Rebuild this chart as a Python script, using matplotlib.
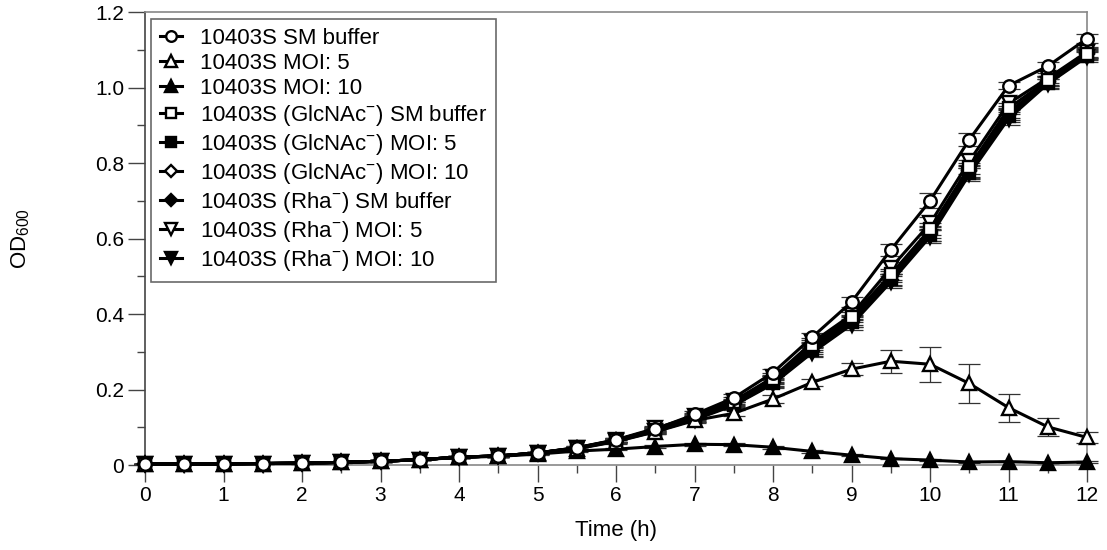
import numpy as np
import matplotlib
matplotlib.use('Agg')
import matplotlib.pyplot as plt
from matplotlib.ticker import MultipleLocator, FuncFormatter

plt.rcParams['font.family'] = ['Liberation Sans', 'DejaVu Sans']
plt.rcParams['mathtext.fontset'] = 'custom'
plt.rcParams['mathtext.rm'] = 'Liberation Sans'
plt.rcParams['mathtext.it'] = 'Liberation Sans'

# Tiempo (h)
time_h = [0, 0.5, 1, 1.5, 2, 2.5, 3, 3.5, 4, 4.5, 5, 5.5, 6,
          6.5, 7, 7.5, 8, 8.5, 9, 9.5, 10, 10.5, 11, 11.5, 12]

# Valores de OD600
wt_sm = [0.003, 0.003, 0.003, 0.004, 0.005, 0.007, 0.010, 0.014, 0.021, 0.024, 0.032, 0.046,
         0.066, 0.095, 0.134, 0.178, 0.245, 0.339, 0.432, 0.570, 0.700, 0.862, 1.005, 1.057, 1.130]
wt_moi5 = [0.003, 0.003, 0.003, 0.004, 0.005, 0.007, 0.010, 0.014, 0.021, 0.024, 0.031, 0.043,
           0.062, 0.088, 0.118, 0.137, 0.175, 0.219, 0.254, 0.275, 0.267, 0.216, 0.152, 0.101, 0.073]
wt_moi10 = [0.003, 0.003, 0.003, 0.004, 0.005, 0.007, 0.010, 0.014, 0.020, 0.023, 0.029, 0.037,
            0.042, 0.049, 0.055, 0.054, 0.047, 0.036, 0.026, 0.017, 0.013, 0.008, 0.009, 0.006, 0.008]
glc_sm = [0.003, 0.003, 0.003, 0.004, 0.005, 0.007, 0.010, 0.014, 0.021, 0.024, 0.032, 0.045,
          0.065, 0.093, 0.128, 0.168, 0.228, 0.318, 0.392, 0.505, 0.625, 0.790, 0.945, 1.020, 1.090]
glc_moi5 = [0.003, 0.003, 0.003, 0.004, 0.005, 0.007, 0.010, 0.014, 0.021, 0.024, 0.032, 0.044,
            0.064, 0.090, 0.122, 0.160, 0.218, 0.305, 0.378, 0.492, 0.610, 0.775, 0.925, 1.012, 1.085]
glc_moi10 = [0.003, 0.003, 0.003, 0.004, 0.005, 0.007, 0.010, 0.014, 0.021, 0.024, 0.032, 0.045,
             0.066, 0.094, 0.126, 0.165, 0.225, 0.312, 0.385, 0.500, 0.618, 0.782, 0.935, 1.015, 1.088]
rha_sm = [0.003, 0.003, 0.003, 0.004, 0.005, 0.007, 0.010, 0.014, 0.021, 0.024, 0.032, 0.045,
          0.065, 0.092, 0.124, 0.162, 0.220, 0.302, 0.380, 0.490, 0.612, 0.778, 0.930, 1.018, 1.092]
rha_moi5 = [0.003, 0.003, 0.003, 0.004, 0.005, 0.007, 0.010, 0.014, 0.021, 0.024, 0.032, 0.046,
            0.067, 0.097, 0.130, 0.170, 0.232, 0.325, 0.398, 0.522, 0.640, 0.805, 0.958, 1.025, 1.095]
rha_moi10 = [0.003, 0.003, 0.003, 0.004, 0.005, 0.007, 0.010, 0.014, 0.021, 0.024, 0.031, 0.044,
             0.063, 0.089, 0.120, 0.158, 0.215, 0.298, 0.372, 0.485, 0.605, 0.770, 0.918, 1.010, 1.082]

# Desviaciones (barras de error)
err_wt_sm = [0.001, 0.001, 0.001, 0.001, 0.001, 0.001, 0.002, 0.002, 0.002, 0.002, 0.003, 0.004,
             0.005, 0.006, 0.008, 0.010, 0.010, 0.012, 0.014, 0.015, 0.020, 0.018, 0.010, 0.012, 0.012]
err_wt_moi5 = [0.001, 0.001, 0.001, 0.001, 0.001, 0.001, 0.002, 0.002, 0.002, 0.002, 0.003, 0.004,
               0.005, 0.006, 0.007, 0.008, 0.010, 0.010, 0.015, 0.030, 0.047, 0.052, 0.037, 0.024, 0.014]
err_wt_moi10 = [0.001, 0.001, 0.001, 0.001, 0.001, 0.001, 0.001, 0.002, 0.002, 0.002, 0.002, 0.003,
                0.003, 0.003, 0.004, 0.004, 0.004, 0.003, 0.003, 0.002, 0.002, 0.002, 0.002, 0.002, 0.002]
err_glc = [0.001, 0.001, 0.001, 0.001, 0.001, 0.001, 0.002, 0.002, 0.002, 0.002, 0.003, 0.004,
           0.005, 0.006, 0.007, 0.008, 0.010, 0.012, 0.013, 0.015, 0.016, 0.018, 0.015, 0.012, 0.012]
err_rha = [0.001, 0.001, 0.001, 0.001, 0.001, 0.001, 0.002, 0.002, 0.002, 0.002, 0.003, 0.004,
           0.005, 0.006, 0.007, 0.009, 0.011, 0.012, 0.014, 0.016, 0.018, 0.017, 0.016, 0.013, 0.013]

labels = ['10403S SM buffer',
          '10403S MOI: 5',
          '10403S MOI: 10',
          r'10403S (GlcNAc$^{-}$) SM buffer',
          r'10403S (GlcNAc$^{-}$) MOI: 5',
          r'10403S (GlcNAc$^{-}$) MOI: 10',
          r'10403S (Rha$^{-}$) SM buffer',
          r'10403S (Rha$^{-}$) MOI: 5',
          r'10403S (Rha$^{-}$) MOI: 10']

series = [wt_sm, wt_moi5, wt_moi10, glc_sm, glc_moi5, glc_moi10, rha_sm, rha_moi5, rha_moi10]
errors = [err_wt_sm, err_wt_moi5, err_wt_moi10, err_glc, err_glc, err_glc, err_rha, err_rha, err_rha]
markers = ['o', '^', '^', 's', 's', 'D', 'D', 'v', 'v']
filled = [False, False, True, False, True, False, True, False, True]
msizes = [9, 10, 10, 8, 8, 7.5, 7.5, 10, 10]

fig = plt.figure(figsize=(11.07, 5.5), dpi=100)
ax = fig.add_axes([0.131, 0.1545, 0.851, 0.8235])

# Dibujar en orden inverso para que la primera serie quede encima
for i in reversed(range(len(series))):
    ax.errorbar(time_h, series[i], yerr=errors[i], fmt='none', ecolor='#333333',
                elinewidth=0.9, capsize=8, capthick=0.9, zorder=2 + i * 0.01, clip_on=False)

handles = [None] * len(series)
for i in reversed(range(len(series))):
    face = 'black' if filled[i] else 'white'
    h, = ax.plot(time_h, series[i], marker=markers[i], markersize=msizes[i],
                 markerfacecolor=face, markeredgecolor='black', markeredgewidth=1.7,
                 color='black', linewidth=2.2, clip_on=False, zorder=3 + (8 - i) * 0.01)
    handles[i] = h

ax.set_xlim(0, 12)
ax.set_ylim(0, 1.2)
ax.xaxis.set_major_locator(MultipleLocator(1))
ax.xaxis.set_minor_locator(MultipleLocator(0.5))
ax.yaxis.set_major_locator(MultipleLocator(0.2))
ax.yaxis.set_minor_locator(MultipleLocator(0.1))
ax.yaxis.set_major_formatter(FuncFormatter(lambda v, p: '0' if abs(v) < 1e-9 else '%.1f' % v))

ax.tick_params(axis='both', which='major', direction='out', length=12, width=1,
               labelsize=15, color='#444444', pad=3)
ax.tick_params(axis='both', which='minor', direction='out', length=6, width=1, color='#444444')

for side in ['top', 'right', 'bottom']:
    ax.spines[side].set_color('#888888')
    ax.spines[side].set_linewidth(1.2)
ax.spines['left'].set_color('#444444')
ax.spines['left'].set_linewidth(1.2)

ax.set_xlabel('Time (h)', fontsize=16)
ax.set_ylabel(r'OD$_{\rm 600}$', fontsize=16)
ax.xaxis.set_label_coords(0.5, -0.121)
ax.yaxis.set_label_coords(-0.12, 0.5)

leg = ax.legend(handles, labels, loc='upper left', bbox_to_anchor=(0.006, 0.984),
                borderaxespad=0, fontsize=16, handlelength=1.0, handletextpad=0.8,
                labelspacing=0.18, frameon=True, fancybox=False, borderpad=0.4,
                markerscale=0.85)
leg.get_frame().set_edgecolor('#444444')
leg.get_frame().set_linewidth(1.2)
leg.set_zorder(10)

plt.savefig('out.png', dpi=100)
